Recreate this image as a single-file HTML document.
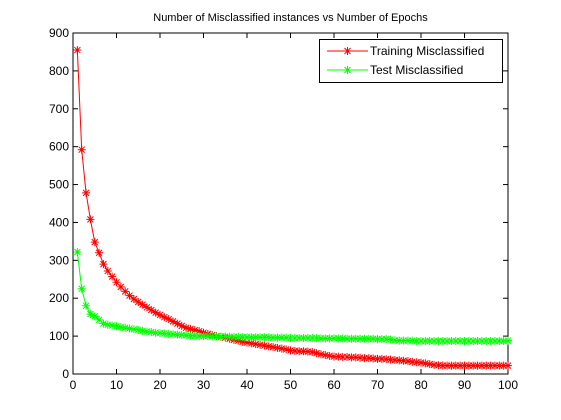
<!DOCTYPE html>
<html><head><meta charset="utf-8"><style>
body{margin:0;background:#fff;width:561px;height:420px;overflow:hidden}
svg{display:block;font-family:"Liberation Sans",Arial,sans-serif}
</style></head><body>
<svg id="chart" width="561" height="420"></svg>
<script>
const epochs = Array.from({length:100},(_,i)=>i+1);
const trainVals = [855,592,478,408,348,320,290,272,257,242,230,218,207,198,190,183,176,169,162,156,
150,145,139,133,127,122,119,116,113,109,106,103,100,98,96,93,90,88,85,83,
81,79,77,75,73,71,69,67,65,62,61,60,60,59,58,55,52,50,48,46,
46,45,45,44,44,43,42,42,41,40,40,39,38,37,36,35,34,32,31,30,
28,26,24,23,22,22,22,22,22,22,22,22,22,22,22,22,22,22,22,22];
const testVals = [322,225,180,158,152,143,133,130,128,126,124,122,120,118,116,114,112,111,109,108,
107,106,105,104,103,102,101,101,100,100,100,99,99,99,99,98,98,98,97,97,
97,97,97,97,97,96,96,96,96,95,95,95,95,95,95,95,94,94,94,94,
94,94,93,93,93,93,93,93,93,92,92,92,91,89,88,88,88,88,87,87,
87,87,87,87,87,87,87,87,87,87,87,87,87,87,87,87,87,87,87,88];
const xTicks=[0,10,20,30,40,50,60,70,80,90,100];
const yTicks=[0,100,200,300,400,500,600,700,800,900];
const L=73,R=508,T=33,B=374;
const xs=v=>L+(v/100)*(R-L), ys=v=>B-(v/900)*(B-T);
const svg=document.getElementById('chart');const NS='http://www.w3.org/2000/svg';
function mk(t,a,p){const e=document.createElementNS(NS,t);for(const k in a)e.setAttribute(k,a[k]);(p||svg).appendChild(e);return e;}
const ax=mk('rect',{x:L,y:T,width:R-L,height:B-T,fill:'#fff',stroke:'#000','stroke-width':1});


const title=mk('text',{x:(L+R)/2,y:21,'text-anchor':'middle','font-size':11});
title.textContent='Number of Misclassified instances vs Number of Epochs';


xTicks.forEach(v=>{const x=xs(v);
mk('line',{x1:x,x2:x,y1:B,y2:B-5,stroke:'#000'});mk('line',{x1:x,x2:x,y1:T,y2:T+5,stroke:'#000'});
const t=mk('text',{x:x,y:B+15,'text-anchor':'middle','font-size':12});t.textContent=v;

});
yTicks.forEach(v=>{const y=ys(v);
mk('line',{x1:L,x2:L+5,y1:y,y2:y,stroke:'#000'});mk('line',{x1:R,x2:R-5,y1:y,y2:y,stroke:'#000'});
const t=mk('text',{x:L-4,y:y+4,'text-anchor':'end','font-size':12});t.textContent=v;

});
function star(g,x,y,c){const s=4;
mk('path',{d:`M${x-s} ${y}H${x+s}M${x} ${y-s}V${y+s}M${x-3} ${y-3}L${x+3} ${y+3}M${x-3} ${y+3}L${x+3} ${y-3}`,stroke:c,'stroke-width':1,fill:'none'},g);}
function series(vals,c,name){const g=mk('g',{});


mk('polyline',{points:vals.map((v,i)=>xs(epochs[i])+','+ys(v)).join(' '),fill:'none',stroke:c,'stroke-width':1},g);
vals.forEach((v,i)=>star(g,xs(epochs[i]),ys(v),c));}
series(trainVals,'#f00','training-series');
series(testVals,'#0f0','test-series');
const lg=mk('g',{});


mk('rect',{x:319.5,y:39.5,width:183,height:43,fill:'#fff',stroke:'#000'},lg);
[['Training Misclassified','#f00',51],['Test Misclassified','#0f0',70]].forEach(([n,c,y])=>{
mk('line',{x1:327,x2:368,y1:y,y2:y,stroke:c},lg);star(lg,347.5,y,c);
const t=mk('text',{x:370,y:y+4,'font-size':12},lg);t.textContent=n;

});
</script>
</body></html>
